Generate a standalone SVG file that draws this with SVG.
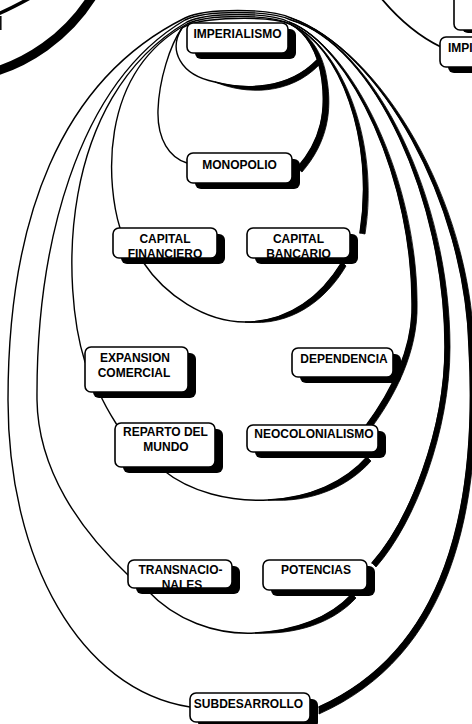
<svg xmlns="http://www.w3.org/2000/svg" width="472" height="724" viewBox="0 0 472 724">
<style>
  .thin{fill:none;stroke:#000;stroke-width:1.4;stroke-linecap:round;stroke-linejoin:round}
  .ink{fill:#000;stroke:#000;stroke-width:0.8;stroke-linejoin:round}
  .shade{fill:#000}
  .face{fill:#fff;stroke:#000;stroke-width:1.6}
  text{font-family:"Liberation Sans",Arial,sans-serif;font-weight:bold;font-size:12px;fill:#000;text-anchor:middle}
</style>
<rect width="472" height="724" fill="#fff"/>

<g id="connectors">
  <!-- fragments of neighbouring loops at the top corners -->
  <path d="M-3,71 C25,62 65,40 92,-3" fill="none" stroke="#000" stroke-width="9"/>
  <path d="M-2,14 Q12,8 30,-2" fill="none" stroke="#000" stroke-width="3.5"/>
  <path d="M0.8,16 L0.8,30" fill="none" stroke="#000" stroke-width="1.5"/>
  <path d="M381,-2 C396,16 416,35 441,47" fill="none" stroke="#000" stroke-width="1.8"/>

  <!-- outer loop: imperialismo - subdesarrollo -->
  <path class="thin" d="M190,707 C80,690 8,560 8,400 C8,220 60,80 185,18 C205,8 270,8 291,18 C380,50 465,200 469,347 C478,510 445,650 319,707"/>
  <path class="ink" d="M291,18 C380,50 465,200 469,347 L474,347 C470,200 381,50 291,18 Z"/>
  <path class="ink" d="M469,347 C478,510 445,650 319,707 L319,714 C450,656 484,511 474,347 Z"/>

  <!-- loop: transnacionales - potencias -->
  <path class="thin" d="M128,575 C80,530 38,470 37,400 C36,250 75,85 185,20 C205,10 270,10 291,20 C375,45 445,200 445,347 C445,430 410,520 372,563"/>
  <path class="thin" d="M147,590 C175,620 215,635 255,633 C295,631 330,618 352,594"/>
  <path class="ink" d="M291,20 C375,45 445,200 445,347 L450,347 C450,200 376,45 291,20 Z"/>
  <path class="ink" d="M445,347 C445,430 410,520 372,563 L376,567 C415,523 450,431 450,347 Z"/>
  <path class="ink" d="M255,633 C295,631 330,618 352,594 L356,598 C333,623 296,635 255,633 Z"/>

  <!-- loop: expansion comercial / reparto - dependencia / neocolonialismo -->
  <path class="thin" d="M85,362 C62,290 55,100 187,22 C207,12 270,12 289,22 C350,45 415,180 412,313 C410,360 385,400 365,427"/>
  <path class="thin" d="M99,392 C104,404 110,414 117,425"/>
  <path class="thin" d="M163,470 C190,492 230,502 268,500 C310,498 345,482 367,457"/>
  <path class="ink" d="M289,22 C350,45 415,180 412,313 L417,313 C420,180 351,45 289,22 Z"/>
  <path class="ink" d="M412,313 C410,360 385,400 365,427 L369,431 C390,403 415,361 417,313 Z"/>
  <path class="ink" d="M268,500 C310,498 345,482 367,457 L371,461 C348,487 311,503 268,500 Z"/>

  <!-- loop: capital financiero - capital bancario -->
  <path class="thin" d="M120,228 C108,190 95,75 187,24 C207,14 270,14 290,24 C340,45 375,140 360,233"/>
  <path class="thin" d="M143,262 C165,295 205,322 245,322 C290,322 322,295 342,262"/>
  <path class="ink" d="M290,24 C340,45 375,140 360,233 L365,234 C380,140 341,45 290,24 Z"/>
  <path class="ink" d="M245,322 C290,322 322,295 342,262 L346,266 C326,300 291,327 245,322 Z"/>

  <!-- loop: monopolio -->
  <path class="thin" d="M187,163 C170,158 157,140 158,110 C159,80 170,45 182,28 C200,16 270,16 290,24 C305,32 318,50 322,80 C326,110 322,140 297,168"/>
  <path class="ink" d="M290,24 C305,32 318,50 322,80 L327,80 C323,50 307,32 290,24 Z"/>
  <path class="ink" d="M322,80 C326,110 322,140 297,168 L302,172 C328,142 332,110 327,80 Z"/>

  <!-- small loop under imperialismo -->
  <path class="thin" d="M182,28 C168,50 180,75 215,82 C245,90 288,90 317,60"/>
  <path class="ink" d="M215,82 C245,90 288,90 317,60 L319,65 C290,95 246,95 215,82 Z"/>
</g>

<g id="imperialismo">
  <rect class="shade" x="195" y="29" width="101" height="30" rx="6"/>
  <rect class="face" x="187" y="23" width="101" height="30" rx="6"/>
  <text x="237.5" y="37.5">IMPERIALISMO</text>
</g>
<g id="monopolio">
  <rect class="shade" x="195" y="159" width="105" height="30" rx="6"/>
  <rect class="face" x="187" y="153" width="105" height="30" rx="6"/>
  <text x="239.5" y="169">MONOPOLIO</text>
</g>
<g id="capital-financiero">
  <rect class="shade" x="121" y="234" width="104" height="30" rx="6"/>
  <rect class="face" x="113" y="228" width="104" height="30" rx="6"/>
  <text x="165" y="243">CAPITAL</text>
  <text x="165" y="258">FINANCIERO</text>
</g>
<g id="capital-bancario">
  <rect class="shade" x="255" y="234" width="103" height="30" rx="6"/>
  <rect class="face" x="247" y="228" width="103" height="30" rx="6"/>
  <text x="298.5" y="243">CAPITAL</text>
  <text x="298.5" y="258">BANCARIO</text>
</g>
<g id="expansion-comercial">
  <rect class="shade" x="93" y="353" width="103" height="45" rx="6"/>
  <rect class="face" x="85" y="347" width="103" height="45" rx="6"/>
  <text x="135" y="362">EXPANSION</text>
  <text x="134" y="377">COMERCIAL</text>
</g>
<g id="dependencia">
  <rect class="shade" x="300" y="354" width="101" height="29" rx="6"/>
  <rect class="face" x="292" y="348" width="101" height="29" rx="6"/>
  <text x="344" y="363">DEPENDENCIA</text>
</g>
<g id="reparto-del-mundo">
  <rect class="shade" x="123" y="429" width="100" height="44" rx="6"/>
  <rect class="face" x="115" y="423" width="100" height="44" rx="6"/>
  <text x="165.5" y="436">REPARTO DEL</text>
  <text x="166" y="451">MUNDO</text>
</g>
<g id="neocolonialismo">
  <rect class="shade" x="255" y="431" width="131" height="27" rx="6"/>
  <rect class="face" x="247" y="425" width="131" height="27" rx="6"/>
  <text x="314" y="438">NEOCOLONIALISMO</text>
</g>
<g id="transnacionales">
  <rect class="shade" x="136" y="566" width="104" height="28" rx="6"/>
  <rect class="face" x="128" y="560" width="104" height="28" rx="6"/>
  <text x="180.5" y="574">TRANSNACIO-</text>
  <text x="182" y="589">NALES</text>
</g>
<g id="potencias">
  <rect class="shade" x="271" y="566" width="104" height="30" rx="6"/>
  <rect class="face" x="263" y="560" width="104" height="30" rx="6"/>
  <text x="316" y="574">POTENCIAS</text>
</g>
<g id="subdesarrollo">
  <rect class="shade" x="198" y="699" width="120" height="29" rx="6"/>
  <rect class="face" x="190" y="693" width="120" height="29" rx="6"/>
  <text x="248.5" y="708">SUBDESARROLLO</text>
</g>
<g id="imperialismo-right">
  <rect class="shade" x="448" y="43" width="50" height="30" rx="6"/>
  <rect class="face" x="440" y="37" width="50" height="30" rx="6"/>
  <text x="448" y="52" style="text-anchor:start">IMPI</text>
</g>
<g id="top-right-node">
  <rect class="shade" x="462" y="-18" width="40" height="51" rx="6"/>
  <rect class="face" x="454" y="-24" width="40" height="54" rx="6"/>
</g>
</svg>
